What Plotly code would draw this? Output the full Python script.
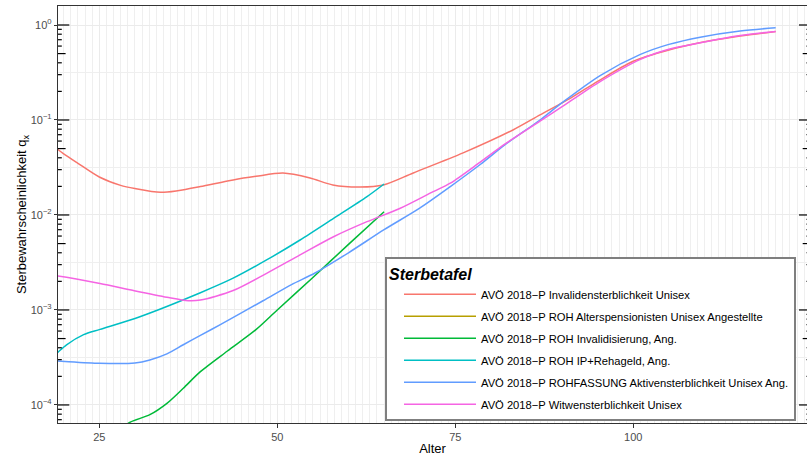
import plotly.graph_objects as go

# Sterbetafeln AVÖ 2018-P
ages_inv = [19, 20, 22, 25, 28, 30, 33.6, 36, 39.2, 43.8, 47, 50.8, 54.6, 57.8, 61.6, 64.9, 69.1,
            76.1, 83.1, 86.9, 91.2, 95, 100, 105, 110, 115, 120]
q_inv = [0.0500, 0.0440, 0.0350, 0.0251, 0.0205, 0.0190, 0.0173, 0.0180, 0.0199, 0.0234, 0.0255,
         0.0276, 0.0245, 0.0207, 0.0197, 0.0207, 0.0277, 0.0450, 0.0785, 0.1130, 0.1700, 0.2550,
         0.4150, 0.5450, 0.6650, 0.7650, 0.8550]

ages_alt = [None]
q_alt = [None]

ages_invd = [27, 29.2, 32.1, 34.5, 36.8, 39.2, 43, 47, 50, 55, 60, 65]
q_invd = [0.000048, 0.000065, 0.000079, 0.000104, 0.000150, 0.000224, 0.000370, 0.000620,
          0.001000, 0.002200, 0.004900, 0.010800]

ages_ip = [19, 19.2, 20.4, 22.8, 25.1, 30.7, 39.2, 43.8, 48.5, 53.2, 57.9, 62.6, 65]
q_ip = [0.00035, 0.00036, 0.00043, 0.00055, 0.000625, 0.00085, 0.00152, 0.00216, 0.00336,
        0.00545, 0.00920, 0.01560, 0.02120]

ages_akt = [19, 19.2, 25, 30, 32.1, 34.5, 36.8, 39.2, 42, 48, 52, 55.3, 60, 65, 70, 74.3,
            78.5, 82, 86.9, 90, 95.4, 101, 105, 109.4, 115, 120]
q_akt = [0.00029, 0.00029, 0.000275, 0.000277, 0.000298, 0.000345, 0.00043, 0.00054, 0.00070,
         0.00125, 0.00185, 0.00245, 0.00400, 0.00700, 0.01180, 0.01990, 0.0340, 0.0550, 0.1000,
         0.1520, 0.2950, 0.4900, 0.6250, 0.7450, 0.8650, 0.9350]

ages_wit = [19, 19.2, 25.1, 29.8, 34.5, 37.5, 39.2, 43.8, 48.5, 53.2, 57.9, 62.6, 67.2, 71.9,
            74.3, 78.5, 82, 86.9, 90, 95, 101, 105, 109.4, 115, 120]
q_wit = [0.00229, 0.00228, 0.00190, 0.00160, 0.00136, 0.00125, 0.00127, 0.00160, 0.00243,
         0.00380, 0.00590, 0.00850, 0.01170, 0.01760, 0.02160, 0.0360, 0.0560, 0.0970, 0.1380,
         0.2450, 0.4350, 0.5550, 0.6500, 0.7750, 0.8550]

series = [
    ("AVÖ 2018−P Invalidensterblichkeit Unisex", ages_inv, q_inv, "#F8766D"),
    ("AVÖ 2018−P ROH Alterspensionisten Unisex Angestellte", ages_alt, q_alt, "#B79F00"),
    ("AVÖ 2018−P ROH Invalidisierung, Ang.", ages_invd, q_invd, "#00BA38"),
    ("AVÖ 2018−P ROH IP+Rehageld, Ang.", ages_ip, q_ip, "#00BFC4"),
    ("AVÖ 2018−P ROHFASSUNG Aktivensterblichkeit Unisex Ang.", ages_akt, q_akt, "#619CFF"),
    ("AVÖ 2018−P Witwensterblichkeit Unisex", ages_wit, q_wit, "#F564E3"),
]

y_ticks = [1e-4, 1e-3, 1e-2, 1e-1, 1]
y_ticktext = ["10<sup>−4</sup>", "10<sup>−3</sup>", "10<sup>−2</sup>", "10<sup>−1</sup>", "10<sup>0</sup>"]
y_minor = [10 ** (k + 0.5) for k in range(-5, 0)]
x_ticks = [25, 50, 75, 100]

# log tick marks (annotation_logticks): decades, fives, and the rest
decades = [10.0 ** k for k in range(-5, 1)]
fives = [5 * d for d in decades]
others = [m * d for d in decades for m in (2, 3, 4, 6, 7, 8, 9)]

W, H = 807, 456
L, T, B = 58, 6, 33
plot_w = W - L
y_lo, y_hi = -4.19, 0.2
x_lo, x_hi = 19.2, 124.4
px_per_year = plot_w / (x_hi - x_lo)

fig = go.Figure()
for i, (name, xs, ys, col) in enumerate(series):
    fig.add_trace(go.Scatter(
        x=xs, y=ys, mode="lines", name=name, legendgroup=str(i),
        line=dict(color=col, width=1.5, shape="spline", smoothing=0.8),
    ))

# log ticks on both panel sides; the right panel edge sits just beyond the page
x_right = x_lo + (810.3 - L) / px_per_year
x_left = x_lo - 0.15
for vals, ln in [(decades, 11.3), (fives, 7.6), (others, 3.8)]:
    d = ln / px_per_year
    tx, ty = [], []
    for v in vals:
        tx += [x_left, x_lo + d, None, x_right - d, x_right + 1, None]
        ty += [v, v, None, v, v, None]
    fig.add_trace(go.Scatter(x=tx, y=ty, mode="lines", showlegend=False,
                             hoverinfo="skip", line=dict(color="black", width=1.2)))

fig.update_layout(
    width=W, height=H,
    margin=dict(l=L, r=0, t=T, b=B),
    paper_bgcolor="white", plot_bgcolor="white",
    font=dict(family="Liberation Sans, Arial, sans-serif", color="black"),
    legend=dict(
        x=(385 - L) / plot_w, y=(H - B - 257) / (H - T - B), xanchor="left", yanchor="top",
        bgcolor="white", bordercolor="#7F7F7F", borderwidth=2,
        font=dict(size=11.2, color="black"),
        title=dict(text="Sterbetafel", font=dict(size=16, weight="bold", style="italic")),
        itemwidth=72, indentation=12, tracegroupgap=3,
    ),
)
fig.update_xaxes(
    range=[x_lo, x_hi], tickvals=x_ticks, ticks="outside", ticklen=4, tickcolor="#333333",
    tickfont=dict(size=11, color="#4D4D4D"),
    showline=True, linecolor="#333333", linewidth=1.3, mirror=True,
    showgrid=True, gridcolor="#EBEBEB", gridwidth=1.2, zeroline=False,
    minor=dict(dtick=1, showgrid=True, gridcolor="#EFEFEF", gridwidth=1, ticklen=0),
    title=dict(text="Alter", font=dict(size=13), standoff=2),
)
fig.update_yaxes(
    type="log", range=[y_lo, y_hi], tickvals=y_ticks, ticktext=y_ticktext,
    ticks="outside", ticklen=3, tickcolor="#333333",
    tickfont=dict(size=11, color="#4D4D4D"),
    showline=True, linecolor="#333333", linewidth=1.3, mirror=False,
    showgrid=True, gridcolor="#EBEBEB", gridwidth=1.2, zeroline=False,
    minor=dict(tickvals=y_minor, showgrid=True, gridcolor="#EFEFEF", gridwidth=1, ticklen=0),
    title=dict(text="Sterbewahrscheinlichkeit q<sub>x</sub>", font=dict(size=13), standoff=0),
)

fig.write_html("out.html", config={"displayModeBar": False},
               post_script="document.body.style.margin='0px';")
